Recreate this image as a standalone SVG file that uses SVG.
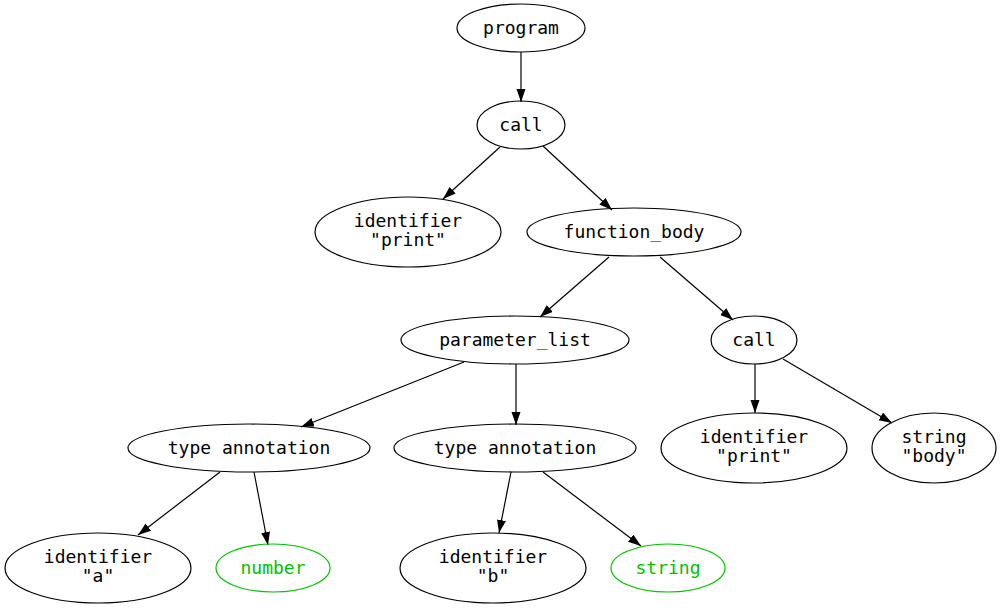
<svg xmlns="http://www.w3.org/2000/svg" width="1002" height="610" viewBox="0 0 1002 610">
<style>
.n ellipse{fill:none;stroke:#000;stroke-width:1.2}
.n text{font-family:"DejaVu Sans Mono",monospace;font-size:18px;text-anchor:middle;fill:#000}
.g ellipse{stroke:#00c000}
.g text{fill:#00c000}
#edges line{stroke:#000;stroke-width:1.2;marker-end:url(#ah)}
</style>
<defs>
<marker id="ah" markerUnits="userSpaceOnUse" markerWidth="14" markerHeight="10" refX="13" refY="4.5" orient="auto">
<path d="M0,0 L13,4.5 L0,9 z" fill="#000"/>
</marker>
</defs>
<rect width="1002" height="610" fill="#fff"/>
<g id="edges">
<line x1="521" y1="52" x2="521" y2="102"/>
<line x1="500" y1="147" x2="443" y2="199"/>
<line x1="543" y1="146" x2="612" y2="210"/>
<line x1="609" y1="257" x2="540" y2="317"/>
<line x1="660" y1="257" x2="733" y2="320"/>
<line x1="464" y1="362" x2="301" y2="427"/>
<line x1="516" y1="364" x2="516" y2="425"/>
<line x1="755" y1="364" x2="755" y2="413"/>
<line x1="783" y1="359" x2="892" y2="423"/>
<line x1="220" y1="472" x2="138" y2="535"/>
<line x1="254" y1="472" x2="268" y2="545"/>
<line x1="511" y1="472" x2="499" y2="533"/>
<line x1="543" y1="472" x2="641" y2="546"/>
</g>
<g id="program" class="n"><ellipse cx="521" cy="28" rx="64" ry="24"/><text x="521" y="34">program</text></g>
<g id="call1" class="n"><ellipse cx="521" cy="125" rx="44" ry="24"/><text x="521" y="131">call</text></g>
<g id="identifier_print1" class="n"><ellipse cx="408" cy="232" rx="93" ry="35"/><text x="408" y="227">identifier</text><text x="408" y="246">"print"</text></g>
<g id="function_body" class="n"><ellipse cx="634" cy="232" rx="107" ry="24"/><text x="634" y="238">function_body</text></g>
<g id="parameter_list" class="n"><ellipse cx="515" cy="340" rx="114" ry="24"/><text x="515" y="346">parameter_list</text></g>
<g id="call2" class="n"><ellipse cx="754" cy="340" rx="43" ry="24"/><text x="754" y="346">call</text></g>
<g id="type_annotation1" class="n"><ellipse cx="249" cy="448" rx="121" ry="24"/><text x="249" y="454">type annotation</text></g>
<g id="type_annotation2" class="n"><ellipse cx="515" cy="448" rx="121" ry="24"/><text x="515" y="454">type annotation</text></g>
<g id="identifier_print2" class="n"><ellipse cx="754" cy="448" rx="93" ry="35"/><text x="754" y="443">identifier</text><text x="754" y="462">"print"</text></g>
<g id="string_body" class="n"><ellipse cx="934" cy="448" rx="62" ry="35"/><text x="934" y="443">string</text><text x="934" y="462">"body"</text></g>
<g id="identifier_a" class="n"><ellipse cx="98" cy="568" rx="93" ry="35"/><text x="98" y="563">identifier</text><text x="98" y="582">"a"</text></g>
<g id="number" class="n g"><ellipse cx="273" cy="568" rx="57" ry="24"/><text x="273" y="574">number</text></g>
<g id="identifier_b" class="n"><ellipse cx="493" cy="568" rx="93" ry="35"/><text x="493" y="563">identifier</text><text x="493" y="582">"b"</text></g>
<g id="string" class="n g"><ellipse cx="668" cy="568" rx="57" ry="24"/><text x="668" y="574">string</text></g>
</svg>
